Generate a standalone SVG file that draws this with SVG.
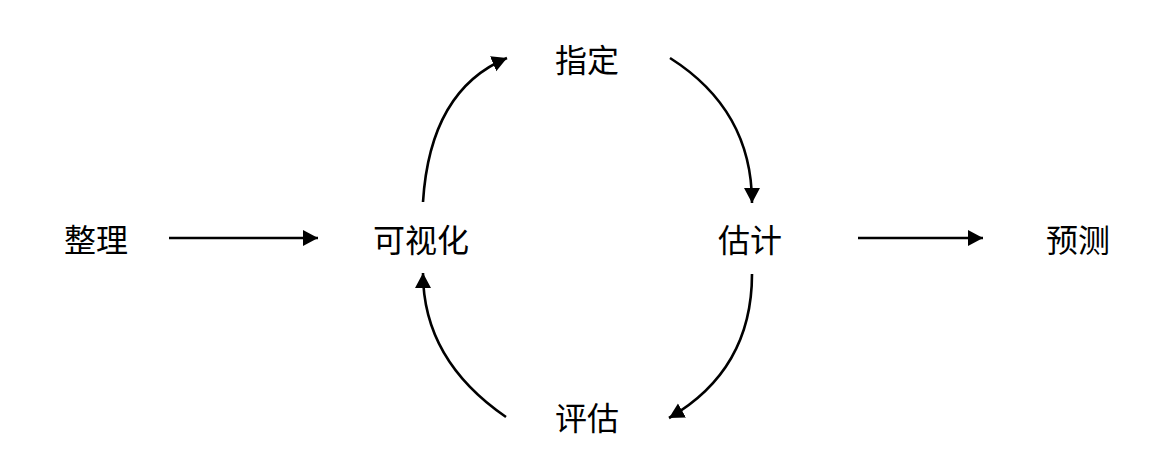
<svg xmlns="http://www.w3.org/2000/svg" width="1170" height="468" viewBox="0 0 1170 468">
<style>
.lbl{font-family:"Noto Sans CJK SC","Noto Sans",sans-serif;font-size:32px;fill:#000;text-anchor:middle;dominant-baseline:central}
.edge{fill:none;stroke:#000;stroke-width:2.6;marker-end:url(#ah)}
</style>
<defs>
<marker id="ah" markerUnits="userSpaceOnUse" markerWidth="18" markerHeight="18" refX="15" refY="8" orient="auto">
<path d="M0,0 L15,8 L0,16 z" fill="#000"/>
</marker>
</defs>
<rect width="1170" height="468" fill="#fff"/>
<g id="n-zhengli"><text class="lbl" x="96" y="238">整理</text></g>
<g id="n-keshihua"><text class="lbl" x="421" y="238">可视化</text></g>
<g id="n-zhiding"><text class="lbl" x="587" y="58">指定</text></g>
<g id="n-guji"><text class="lbl" x="750" y="238">估计</text></g>
<g id="n-pinggu"><text class="lbl" x="587" y="416">评估</text></g>
<g id="n-yuce"><text class="lbl" x="1078" y="238">预测</text></g>
<g id="connectors">
<path class="edge" d="M169,238 L318,238"/>
<path class="edge" d="M858,238 L983,238"/>
<path class="edge" d="M423,202 Q430,90 507,58"/>
<path class="edge" d="M670,58 Q752,110 752,203"/>
<path class="edge" d="M752,274 Q752,370 669,418"/>
<path class="edge" d="M506,417 Q423,360 423,273"/>
</g>
</svg>
